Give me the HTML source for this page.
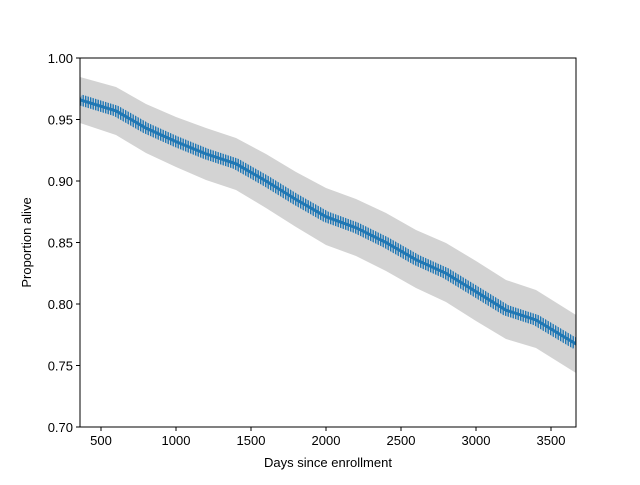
<!DOCTYPE html>
<html><head><style>
body{margin:0;background:#fff}
text{font-family:"Liberation Sans","DejaVu Sans",sans-serif;font-size:13px;fill:#000}
</style></head><body>
<svg width="640" height="480" viewBox="0 0 640 480" xmlns="http://www.w3.org/2000/svg">
<defs>
<clipPath id="ax"><rect x="80" y="58" width="496" height="369"/></clipPath>
<pattern id="vl" width="2.5" height="10" patternUnits="userSpaceOnUse">
<rect x="0" y="0" width="1.4" height="10" fill="#1f77b4"/>
</pattern>
<mask id="m"><polyline fill="none" stroke="#fff" stroke-width="11" points="80,99.8 116,110.9 146,128.1 176,141.6 206,153.9 236,163.8 266,181 296,199.5 326,216.7 356,227.7 386,242.5 416,259.7 446,273.3 476,291.7 506,310.2 536,320 576,344"/></mask>
</defs>
<g clip-path="url(#ax)">
<polygon fill="#d3d3d3" points="80,77 116,87 146,104 176,117 206,128 236,138 266,154 296,172 326,188 356,199 386,213 416,230 446,243 476,261 506,280 536,290 576,315 576,373 536,348 506,339 476,321 446,302 416,288 386,271 356,256 326,245 296,227 266,208 236,190 206,180 176,167 146,153 116,135 80,123"/>
<polyline fill="none" stroke="#1f77b4" stroke-width="3" points="80,99.8 116,110.9 146,128.1 176,141.6 206,153.9 236,163.8 266,181 296,199.5 326,216.7 356,227.7 386,242.5 416,259.7 446,273.3 476,291.7 506,310.2 536,320 576,344"/>
<rect x="80" y="58" width="496" height="369" fill="url(#vl)" mask="url(#m)"/>
</g>
<rect x="80" y="58" width="496" height="369" fill="none" stroke="#000" stroke-width="1"/>
<g stroke="#000" stroke-width="1">
<line x1="101" y1="427" x2="101" y2="431"/><line x1="176" y1="427" x2="176" y2="431"/><line x1="251" y1="427" x2="251" y2="431"/><line x1="326" y1="427" x2="326" y2="431"/><line x1="401" y1="427" x2="401" y2="431"/><line x1="476" y1="427" x2="476" y2="431"/><line x1="551" y1="427" x2="551" y2="431"/>
<line x1="76" y1="58" x2="80" y2="58"/><line x1="76" y1="119.5" x2="80" y2="119.5"/><line x1="76" y1="181" x2="80" y2="181"/><line x1="76" y1="242.5" x2="80" y2="242.5"/><line x1="76" y1="304" x2="80" y2="304"/><line x1="76" y1="365.5" x2="80" y2="365.5"/><line x1="76" y1="427" x2="80" y2="427"/>
</g>
<g text-anchor="middle">
<text x="101" y="445">500</text><text x="176" y="445">1000</text><text x="251" y="445">1500</text><text x="326" y="445">2000</text><text x="401" y="445">2500</text><text x="476" y="445">3000</text><text x="551" y="445">3500</text>
<text x="328" y="467">Days since enrollment</text>
</g>
<g text-anchor="end">
<text x="73" y="63">1.00</text><text x="73" y="124.5">0.95</text><text x="73" y="186">0.90</text><text x="73" y="247.5">0.85</text><text x="73" y="309">0.80</text><text x="73" y="370.5">0.75</text><text x="73" y="432">0.70</text>
</g>
<text x="31" y="242.5" text-anchor="middle" transform="rotate(-90 31 242.5)">Proportion alive</text>
</svg>
</body></html>
